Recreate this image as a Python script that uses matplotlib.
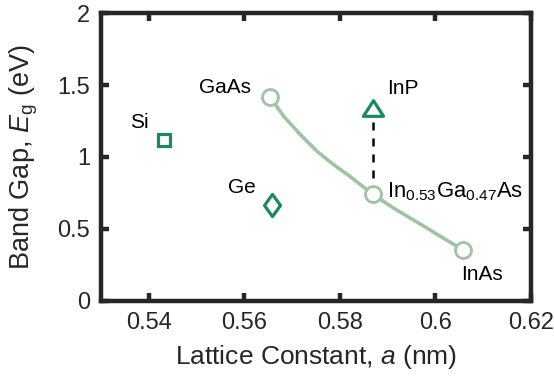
import matplotlib
matplotlib.use("Agg")
import matplotlib.pyplot as plt
from matplotlib.path import Path

plt.rcParams['font.family'] = ['Liberation Sans', 'DejaVu Sans']
plt.rcParams['mathtext.fontset'] = 'custom'
plt.rcParams['mathtext.rm'] = 'Liberation Sans'
plt.rcParams['mathtext.it'] = 'Liberation Sans:italic'
plt.rcParams['mathtext.bf'] = 'Liberation Sans:bold'

# Elemental / binary semiconductors: lattice constant (nm), band gap (eV)
si_a, si_eg = 0.5431, 1.12
ge_a, ge_eg = 0.5658, 0.67
inp_a, inp_eg = 0.5869, 1.34

# InGaAs alloy: end points and lattice-matched composition
ingaas_names = ["GaAs", "In$_{0.53}$Ga$_{0.47}$As", "InAs"]
ingaas_a = [0.5653, 0.5869, 0.6058]
ingaas_eg = [1.42, 0.74, 0.355]

# Band-gap bowing curve across the InGaAs composition range
curve_a = [0.5653, 0.5683, 0.5718, 0.5753, 0.5788, 0.5822, 0.5869,
           0.5913, 0.5948, 0.5983, 0.6017, 0.6058]
curve_eg = [1.42, 1.28, 1.153, 1.037, 0.944, 0.863, 0.74,
            0.644, 0.574, 0.505, 0.435, 0.355]

xticks = [0.54, 0.56, 0.58, 0.60, 0.62]
xticklabels = ["0.54", "0.56", "0.58", "0.6", "0.62"]
yticks = [0, 0.5, 1.0, 1.5, 2.0]
yticklabels = ["0", "0.5", "1", "1.5", "2"]

dark_green = "#1b8a5c"
light_green = "#9fc4a2"
axis_color = "#262626"

diamond = Path([(0, 1), (0.72, 0), (0, -1), (-0.72, 0), (0, 1)],
               [Path.MOVETO, Path.LINETO, Path.LINETO, Path.LINETO, Path.CLOSEPOLY])
triangle = Path([(0, 0.78), (-1, -0.78), (1, -0.78), (0, 0.78)],
                [Path.MOVETO, Path.LINETO, Path.LINETO, Path.CLOSEPOLY])

fig = plt.figure(figsize=(5.54, 3.76), dpi=100)
ax = fig.add_axes([0.1823, 0.1995, 0.7762, 0.7659])

# lattice-matching guide from InGaAs up to InP
ax.plot([ingaas_a[1], inp_a], [ingaas_eg[1], inp_eg], ls=(0, (3.2, 3.2)),
        color="black", lw=1.8, zorder=2)

ax.plot(curve_a, curve_eg, color=light_green, lw=2.6, zorder=3,
        solid_capstyle="round")
ax.plot(ingaas_a, ingaas_eg, ls="none", marker="o", ms=11.5, mew=2.0,
        mec=light_green, mfc="white", zorder=4)

ax.plot([si_a], [si_eg], ls="none", marker="s", ms=8.2, mew=2.3,
        mec=dark_green, mfc="white", zorder=4)
ax.plot([ge_a], [ge_eg], ls="none", marker=diamond, ms=16, mew=2.3,
        mec=dark_green, mfc="white", zorder=4)
ax.plot([inp_a], [inp_eg], ls="none", marker=triangle, ms=14.5, mew=2.3,
        mec=dark_green, mfc="white", zorder=5)

fs = 15
ax.annotate("GaAs", (ingaas_a[0], ingaas_eg[0]), xytext=(-13.5, 6.8),
            textcoords="offset points", ha="right", va="center", fontsize=fs)
ax.annotate(ingaas_names[1], (ingaas_a[1], ingaas_eg[1]), xytext=(9.9, -2),
            textcoords="offset points", ha="left", va="baseline", fontsize=15.8)
ax.annotate("InAs", (ingaas_a[2], ingaas_eg[2]), xytext=(-1.2, -17.6),
            textcoords="offset points", ha="left", va="center", fontsize=fs)
ax.annotate("Si", (si_a, si_eg), xytext=(-10.8, 12.6),
            textcoords="offset points", ha="right", va="center", fontsize=fs)
ax.annotate("Ge", (ge_a, ge_eg), xytext=(-11.7, 11.9),
            textcoords="offset points", ha="right", va="center", fontsize=fs)
ax.annotate("InP", (inp_a, inp_eg), xytext=(10.6, 14),
            textcoords="offset points", ha="left", va="center", fontsize=fs)

ax.set_xlim(0.53, 0.62)
ax.set_ylim(0, 2)
ax.set_xticks(xticks)
ax.set_xticklabels(xticklabels)
ax.set_yticks(yticks)
ax.set_yticklabels(yticklabels)
ax.tick_params(direction="in", length=6, width=3.2, color=axis_color,
               labelsize=17, labelcolor=axis_color, top=True, right=True, pad=8)
for sp in ax.spines.values():
    sp.set_linewidth(3.2)
    sp.set_color(axis_color)

ax.set_xlabel(r"Lattice Constant, $\mathit{a}$ (nm)", fontsize=19,
              color=axis_color)
ax.set_ylabel(r"Band Gap, $\mathit{E}_\mathrm{g}$ (eV)", fontsize=19.5,
              color=axis_color)
ax.xaxis.set_label_coords(0.5, -0.146)
ax.yaxis.set_label_coords(-0.142, 0.5)

fig.savefig("out.png", dpi=100)
